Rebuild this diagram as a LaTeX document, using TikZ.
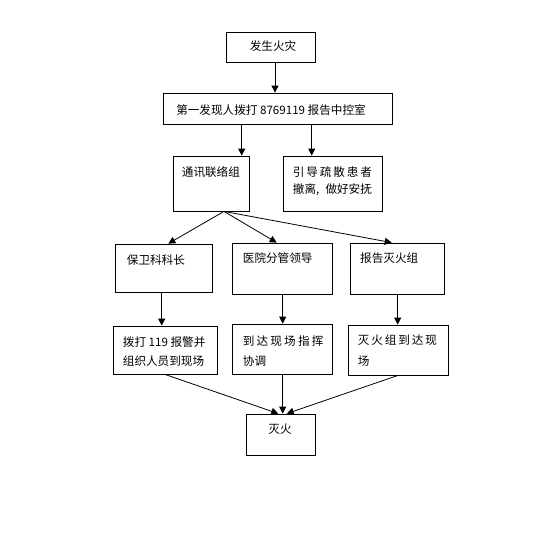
\documentclass[tikz,border=0pt]{standalone}
\usepackage{fontspec}
\newfontfamily\cjk{Noto Sans CJK SC}
\usetikzlibrary{arrows.meta}
\tikzset{
  box/.style={draw=black, line width=0.8pt, rectangle, inner sep=0pt},
  txt/.style={font=\cjk\fontsize{11.6pt}{14pt}\selectfont, inner sep=0pt, anchor=west},
  ctxt/.style={font=\cjk\fontsize{11.6pt}{14pt}\selectfont, inner sep=0pt},
  arr/.style={draw=black, line width=0.8pt, -{Triangle[length=7pt,width=7pt]}}
}
\begin{document}
\begin{tikzpicture}[x=1pt,y=-1pt]
\useasboundingbox[fill=white] (0,0) rectangle (553,542);
% boxes
\node[box, minimum width=89pt, minimum height=30pt] (b1) at (270.5,47) {};
\node[box, minimum width=229pt, minimum height=31pt] (b2) at (277.5,108.5) {};
\node[box, minimum width=76pt, minimum height=55pt] (b3) at (211,183.5) {};
\node[box, minimum width=99pt, minimum height=55pt] (b4) at (332.5,183.5) {};
\node[box, minimum width=97pt, minimum height=48pt] (b5) at (163.5,268) {};
\node[box, minimum width=100pt, minimum height=51pt] (b6) at (282,268.5) {};
\node[box, minimum width=94pt, minimum height=51pt] (b7) at (397,268.5) {};
\node[box, minimum width=104pt, minimum height=48pt] (b8) at (165,350) {};
\node[box, minimum width=100pt, minimum height=50pt] (b9) at (282,349) {};
\node[box, minimum width=100pt, minimum height=50pt] (b10) at (398,350) {};
\node[box, minimum width=69pt, minimum height=41pt] (b11) at (280.5,434.5) {};
% texts
\node[ctxt] (t1) at (273,46) {发生火灾};
\node[ctxt] (t2) at (271,110.5) {第一发现人拨打 8769119 报告中控室};
\node[txt] (t3) at (181.7,171.7) {通讯联络组};
\node[txt] (t4a) at (292.7,171.7) {\hbox to 79pt{引\hfill 导\hfill 疏\hfill 散\hfill 患\hfill 者}};
\node[txt] (t4b) at (292.7,189.5) {\hbox to 79pt{撤离,\hfill 做好安抚}};
\node[txt] (t5) at (126.7,260) {保卫科科长};
\node[txt] (t6) at (242.7,258.3) {医院分管领导};
\node[txt] (t7) at (360,258) {报告灭火组};
\node[txt] (t8a) at (122.7,341.7) {拨打 119 报警并};
\node[txt] (t8b) at (122.7,361) {组织人员到现场};
\node[txt] (t9a) at (242.7,341) {\hbox to 80.5pt{到\hfill 达\hfill 现\hfill 场\hfill 指\hfill 挥}};
\node[txt] (t9b) at (242.7,361) {协调};
\node[txt] (t10a) at (357.7,340.3) {\hbox to 79pt{灭\hfill 火\hfill 组\hfill 到\hfill 达\hfill 现}};
\node[txt] (t10b) at (357.7,361) {场};
\node[ctxt] (t11) at (280,429) {灭火};
% connectors
\draw[arr] ([xshift=4.5pt]b1.south) -- ([xshift=4.5pt]b1.south |- b2.north);
\draw[arr] ([xshift=30.7pt]b3.north |- b2.south) -- ([xshift=30.7pt]b3.north);
\draw[arr] ([xshift=-20.8pt]b4.north |- b2.south) -- ([xshift=-20.8pt]b4.north);
\coordinate (fan) at ([xshift=13pt]b3.south);
\draw[arr] (fan) -- ([xshift=4.8pt]b5.north);
\draw[arr] (fan) -- ([xshift=-5.3pt]b6.north);
\draw[arr] (fan) -- ([xshift=-5.3pt]b7.north);
\draw[arr] ([xshift=-1.8pt]b5.south) -- ([xshift=-1.8pt]b5.south |- b8.north);
\draw[arr] ([xshift=0.7pt]b6.south) -- ([xshift=0.7pt]b9.north);
\draw[arr] ([xshift=0.7pt]b7.south) -- ([xshift=0.7pt]b7.south |- b10.north);
\draw[arr] (b8.south) -- ([xshift=-2.2pt]b11.north);
\draw[arr] ([xshift=0.7pt]b9.south) -- ([xshift=2.2pt]b11.north);
\draw[arr] (b10.south) -- ([xshift=6.2pt]b11.north);
\end{tikzpicture}
\end{document}
